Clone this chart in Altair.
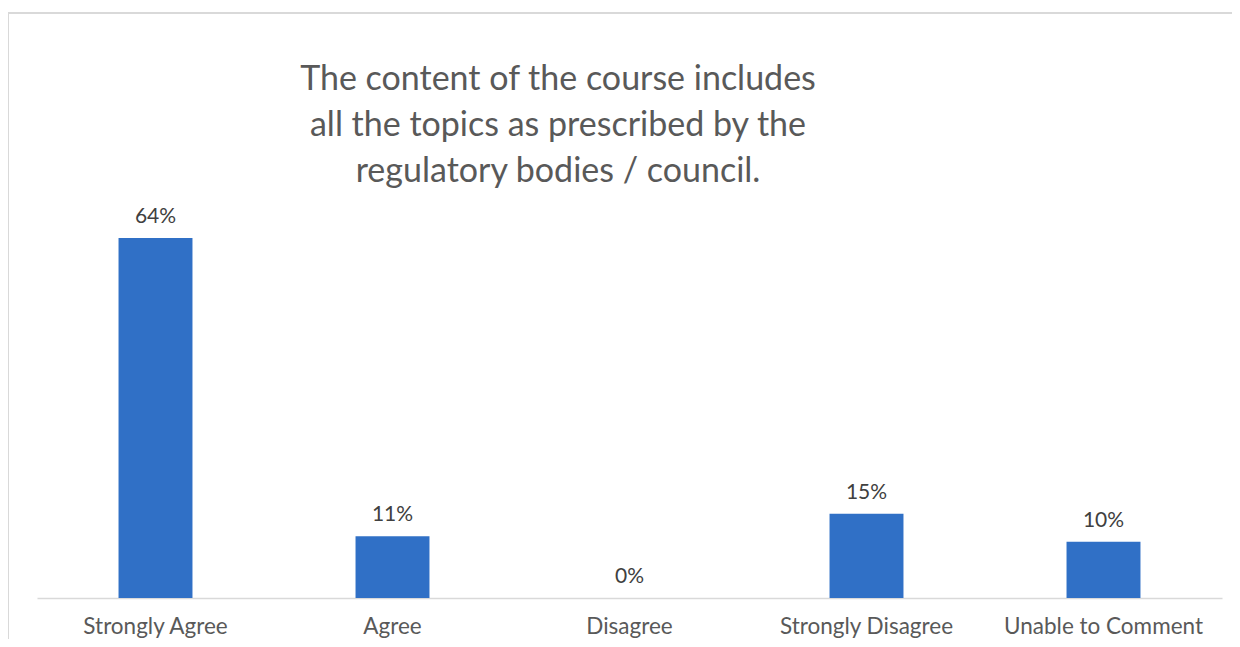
import altair as alt
import pandas as pd

categories = ["Strongly Agree", "Agree", "Disagree", "Strongly Disagree", "Unable to Comment"]
values = [64, 11, 0, 15, 10]
labels = ["64%", "11%", "0%", "15%", "10%"]
title_lines = ["The content of the course includes", "all the topics as prescribed by the", "regulatory bodies / council."]

df = pd.DataFrame({"cat": categories, "val": values, "lab": labels})

FONT = "Lato"
GRAY = "#595959"

x = alt.X("cat:N", sort=categories, title=None,
          scale=alt.Scale(paddingInner=0.688, paddingOuter=0.344),
          axis=alt.Axis(labelAngle=0, ticks=False, domainColor="#d9d9d9", domainWidth=1.5,
                        labelFontSize=22.5, labelColor=GRAY, labelFont=FONT, labelPadding=17,
                        labelLimit=400))
y = alt.Y("val:Q", title=None, scale=alt.Scale(domain=[0, 64], nice=False, zero=True), axis=None)

bars = alt.Chart(df).mark_bar(color="#3070C6").encode(x=x, y=y)
text = alt.Chart(df).mark_text(baseline="bottom", dy=-11, fontSize=21, font=FONT, color="#404040").encode(
    x=alt.X("cat:N", sort=categories), y="val:Q", text="lab:N")

tdf = pd.DataFrame({"t": ["\n".join(title_lines)]})
title = alt.Chart(tdf).mark_text(align="center", baseline="alphabetic", fontSize=34, font=FONT,
                                 color=GRAY, lineBreak="\n", lineHeight=46).encode(
    x=alt.value(521), y=alt.value(-148), text="t:N")

left_edge = alt.Chart(tdf).mark_rule(stroke="#d9d9d9", strokeWidth=2).encode(
    x=alt.value(-29), y=alt.value(-225), y2=alt.value(420))
top_edge = alt.Chart(tdf).mark_rule(stroke="#d9d9d9", strokeWidth=2).encode(
    x=alt.value(-30), x2=alt.value(1200), y=alt.value(-225))

chart = alt.layer(left_edge, top_edge, bars, text, title).properties(
    width=1185, height=360,
    padding={"left": 29, "top": 230, "right": 10, "bottom": 41},
    autosize=alt.AutoSizeParams(type="none"),
).configure_view(stroke=None)

chart.save("out.html", embed_options={"renderer": "svg", "actions": False})
